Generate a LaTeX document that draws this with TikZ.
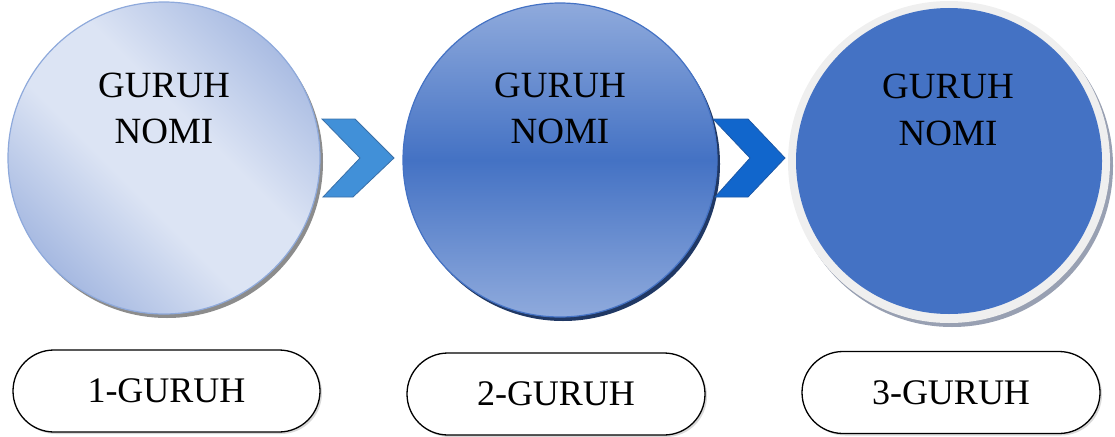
\documentclass[tikz,border=0pt]{standalone}
\usepackage{fontspec}
\setmainfont{Liberation Serif}
\usetikzlibrary{shapes.misc}
\definecolor{lightA}{HTML}{DCE4F4}
\definecolor{darkA}{HTML}{9DB2DE}
\definecolor{rimA}{HTML}{8EA9DB}
\definecolor{midB}{HTML}{4472C4}
\definecolor{lightB}{HTML}{8FAADC}
\definecolor{navy}{HTML}{203864}
\definecolor{ringC}{HTML}{EFEFEF}
\definecolor{shadowC}{HTML}{98A0B2}
\definecolor{chevA}{HTML}{4190D8}
\definecolor{chevAline}{HTML}{3A70A8}
\definecolor{chevB}{HTML}{1166CC}
\definecolor{chevBline}{HTML}{1D58A6}
\pgfdeclarehorizontalshading{bandA}{100bp}{color(0bp)=(darkA); color(22bp)=(darkA); color(43bp)=(lightA); color(57bp)=(lightA); color(80bp)=(darkA); color(100bp)=(darkA)}
\tikzset{
  disc/.style={circle, inner sep=0pt, outer sep=0pt},
  circtext/.style={anchor=base, inner sep=0pt, font=\fontsize{37}{46}\selectfont},
  pill/.style={rounded rectangle, draw=black, line width=1.3pt, fill=white,
    minimum height=82pt, inner sep=0pt, font=\fontsize{36}{42}\selectfont},
  pillshadow/.style={rounded rectangle, fill=black!15, draw=none,
    minimum height=82pt, inner sep=0pt},
  chevronA/.style={fill=chevA, draw=chevAline, line width=0.8pt, line join=miter},
  chevronB/.style={fill=chevB, draw=chevBline, line width=0.8pt, line join=miter}
}
\begin{document}
\begin{tikzpicture}[x=1pt,y=-1pt]
\useasboundingbox (0,0) rectangle (1115,436);

% circle 1
\node[disc, minimum size=312pt, fill=black!45] (s1) at (167,162) {};
\node[disc, minimum size=312pt, draw=rimA, line width=1.2pt,
      shading=bandA, shading angle=45] (c1) at (164,158) {};
\node[circtext] (c1a) at (164,97) {GURUH};
\node[circtext] (c1b) at (164,143) {NOMI};

% chevron 1
\draw[chevronA] (322,119) -- (355,119) -- (394,158) -- (353,197) -- (323,197) -- (360,158) -- cycle;

% circle 2
\node[disc, minimum size=314pt, fill=navy] (s2) at (563,164) {};
\node[disc, minimum size=314pt, draw=midB, line width=1.2pt,
      top color=lightB, bottom color=lightB, middle color=midB] (c2) at (560,160) {};
\node[circtext] (c2a) at (560,97) {GURUH};
\node[circtext] (c2b) at (560,143) {NOMI};

% chevron 2
\draw[chevronB] (713,119) -- (748,119) -- (785,158) -- (748,197) -- (715,197) -- (750,158) -- cycle;

% circle 3
\node[disc, minimum size=322pt, fill=shadowC] (s3) at (952,166) {};
\node[disc, minimum size=322pt, fill=ringC] (r3) at (949,162) {};
\node[disc, minimum size=306pt, fill=midB] (c3) at (949,161) {};
\node[circtext] (c3a) at (948,98) {GURUH};
\node[circtext] (c3b) at (948,145) {NOMI};

% bottom pills
\node[pillshadow, minimum width=307pt] (p1s) at (168.5,393) {};
\node[pill, minimum width=307pt] (p1) at (166.5,391) {1-GURUH};
\node[pillshadow, minimum width=298pt] (p2s) at (558,396) {};
\node[pill, minimum width=298pt] (p2) at (556,394) {2-GURUH};
\node[pillshadow, minimum width=298pt] (p3s) at (953,394.5) {};
\node[pill, minimum width=298pt] (p3) at (951,392.5) {3-GURUH};
\end{tikzpicture}
\end{document}
